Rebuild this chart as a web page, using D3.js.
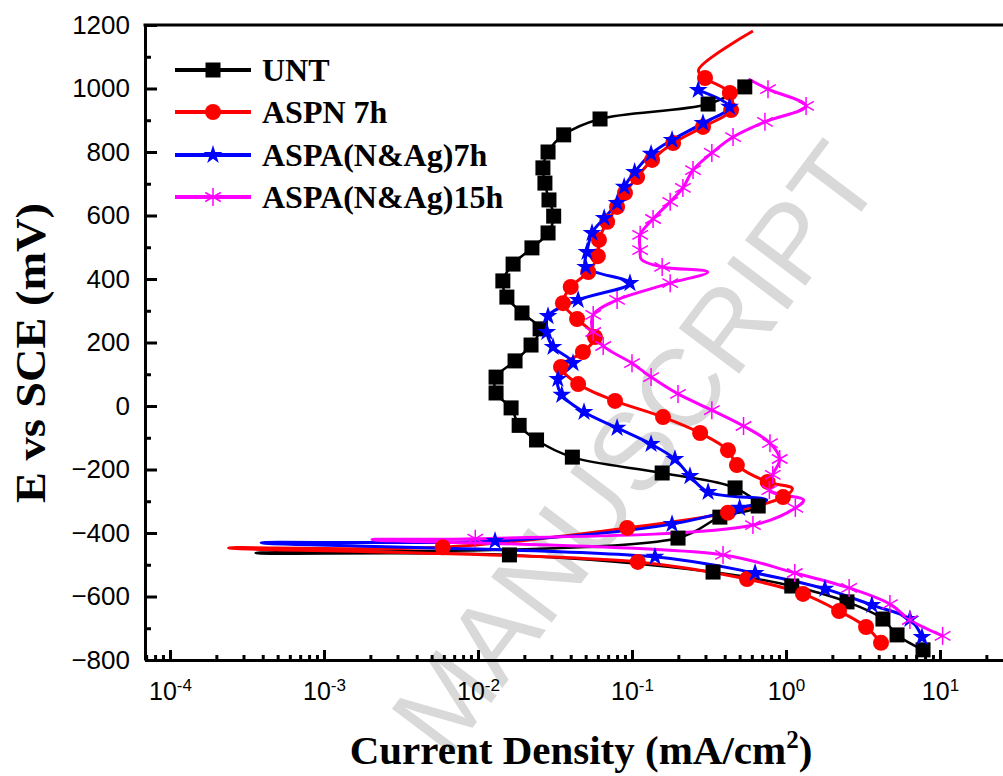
<!DOCTYPE html>
<html>
<head>
<meta charset="utf-8">
<script src="https://cdn.jsdelivr.net/npm/d3@7"></script>
<style>
	body { margin: 0; background: #fff; }
	svg { display: block; }
</style>
</head>
<body>
<svg id="wrapper" width="1003" height="776"></svg>
<script>
// series names, in legend order
let seriesNames = ["UNT", "ASPN 7h", "ASPA(N&Ag)7h", "ASPA(N&Ag)15h"];
let seriesColors = ["#000000", "#ff0000", "#0000ff", "#ff00ff"];

// [current density (mA/cm2), E (mV), has marker]
let untPoints = [
	[7.76, -768, 1], [5.26, -721, 1], [4.26, -671, 1], [2.49, -617, 1], [1.09, -567, 1],
	[0.336, -523, 1], [0.016, -469, 1], [0.00036, -463, 0], [0.199, -416, 1], [0.372, -350, 1],
	[0.66, -315, 1], [0.467, -258, 1], [0.157, -211, 1], [0.041, -161, 1], [0.024, -107, 1],
	[0.0185, -61, 1], [0.0164, -6, 1], [0.0131, 41, 1], [0.0131, 91, 1], [0.0174, 142, 1],
	[0.0221, 192, 1], [0.0253, 243, 1], [0.0193, 293, 1], [0.0154, 343, 1], [0.0145, 394, 1],
	[0.0169, 447, 1], [0.0224, 498, 1], [0.0285, 545, 1], [0.031, 598, 1], [0.0289, 649, 1],
	[0.0272, 702, 1], [0.0264, 750, 1], [0.0285, 800, 1], [0.036, 854, 1], [0.062, 904, 1],
	[0.312, 951, 1], [0.54, 1005, 1], [0.6, 1022, 0]
];
let aspnPoints = [
	[4.14, -746, 1], [3.31, -696, 1], [2.21, -646, 1], [1.29, -592, 1], [0.558, -545, 1],
	[0.109, -491, 1], [0.00024, -447, 0], [0.0059, -445, 1], [0.093, -384, 1], [0.42, -336, 1],
	[0.957, -287, 1], [1.1, -260, 0], [0.76, -239, 1], [0.48, -186, 1], [0.42, -139, 1],
	[0.277, -85, 1], [0.159, -35, 1], [0.0776, 16, 1], [0.0447, 69, 1], [0.0346, 123, 1],
	[0.048, 170, 1], [0.0575, 217, 1], [0.044, 274, 1], [0.0356, 324, 1], [0.04, 375, 1],
	[0.052, 422, 1], [0.06, 472, 1], [0.061, 523, 1], [0.069, 580, 1], [0.08, 627, 1],
	[0.09, 671, 1], [0.108, 721, 1], [0.135, 775, 1], [0.185, 828, 1], [0.289, 879, 1],
	[0.44, 932, 1], [0.432, 986, 1], [0.298, 1033, 1], [0.27, 1058, 0], [0.61, 1181, 0]
];
let aspa7Points = [
	[7.64, -728, 1], [6.38, -671, 1], [3.61, -627, 1], [1.79, -576, 1], [0.63, -526, 1],
	[0.141, -475, 1], [0.00039, -431, 0], [0.0129, -425, 1], [0.182, -372, 1], [0.5, -321, 1],
	[0.75, -296, 0], [0.312, -271, 1], [0.238, -221, 1], [0.19, -167, 1], [0.133, -120, 1],
	[0.08, -69, 1], [0.0488, -19, 1], [0.035, 35, 1], [0.033, 85, 1], [0.0414, 135, 1],
	[0.0307, 186, 1], [0.028, 233, 1], [0.0285, 283, 1], [0.0447, 334, 1], [0.097, 387, 1],
	[0.05, 438, 1], [0.051, 485, 1], [0.055, 545, 1], [0.066, 592, 1], [0.08, 639, 1],
	[0.089, 690, 1], [0.104, 737, 1], [0.133, 794, 1], [0.182, 838, 1], [0.289, 891, 1],
	[0.43, 942, 1], [0.269, 995, 1]
];
let aspa15Points = [
	[10.4, -724, 1], [6.38, -674, 1], [4.73, -624, 1], [2.57, -573, 1], [1.14, -526, 1],
	[0.39, -469, 1], [0.00205, -421, 0], [0.0096, -418, 1], [0.61, -375, 1], [1.15, -321, 1],
	[1.3, -296, 0], [0.78, -265, 1], [0.82, -217, 1], [0.91, -167, 1], [0.787, -117, 1],
	[0.53, -63, 1], [0.33, -13, 1], [0.199, 38, 1], [0.133, 91, 1], [0.1, 135, 1],
	[0.065, 189, 1], [0.056, 233, 1], [0.056, 287, 1], [0.08, 334, 1], [0.177, 387, 1],
	[0.31, 422, 0], [0.157, 438, 1], [0.115, 462, 0], [0.113, 491, 1], [0.113, 539, 1],
	[0.137, 589, 1], [0.177, 643, 1], [0.214, 687, 1], [0.249, 743, 1], [0.33, 797, 1],
	[0.453, 847, 1], [0.73, 895, 1], [1.35, 945, 1], [0.764, 998, 1], [0.57, 1030, 0]
];

let xTickExponents = [-4, -3, -2, -1, 0, 1];
let yTickValues = [-800, -600, -400, -200, 0, 200, 400, 600, 800, 1000, 1200];

let svg = d3.select("#wrapper");
let seriesPoints = [untPoints, aspnPoints, aspa7Points, aspa15Points];
let markerTypes = ["square", "circle", "star", "asterisk"];

let x = d3.scaleLog()
	.domain([Math.pow(10, -4 - 25 / 154), Math.pow(10, 1 + 70 / 154)])
	.range([145, 1010]);
let y = d3.scaleLinear().domain([-800, 1200]).range([660, 25]);

// watermark behind everything
svg.append("text")
	.attr("transform", "translate(635,448) rotate(-53)")
	.attr("text-anchor", "middle")
	.attr("dominant-baseline", "central")
	.style("font-family", "'Liberation Sans', Arial, sans-serif")
	.style("font-size", "110px")
	.attr("fill", "#d9d9d9")
	.text("MANUSCRIPT");

let drawMarker = function (g, type, color) {
	if (type === "square") {
		g.append("rect").attr("x", -7.5).attr("y", -7.5).attr("width", 15).attr("height", 15).attr("fill", color);
	} else if (type === "circle") {
		g.append("circle").attr("r", 8).attr("fill", color);
	} else if (type === "star") {
		g.append("path").attr("d", d3.symbol(d3.symbolStar, 110)()).attr("fill", color);
	} else {
		let r = 9;
		[90, 30, -30].forEach((a) => {
			let rad = (a * Math.PI) / 180;
			g.append("line")
				.attr("x1", -r * Math.cos(rad)).attr("y1", -r * Math.sin(rad))
				.attr("x2", r * Math.cos(rad)).attr("y2", r * Math.sin(rad))
				.attr("stroke", color).attr("stroke-width", 1.5);
		});
	}
};

let line = d3.line()
	.x((d) => x(d[0]))
	.y((d) => y(d[1]))
	.curve(d3.curveCatmullRom.alpha(0.5));

// series lines then markers
seriesPoints.forEach((pts, i) => {
	svg.append("path")
		.attr("d", line(pts))
		.attr("fill", "none")
		.attr("stroke", seriesColors[i])
		.attr("stroke-width", i === 0 ? 2.5 : 3);
});
seriesPoints.forEach((pts, i) => {
	pts.filter((d) => d[2]).forEach((d) => {
		let g = svg.append("g").attr("transform", "translate(" + x(d[0]) + "," + y(d[1]) + ")");
		drawMarker(g, markerTypes[i], seriesColors[i]);
	});
});

// x axis with minor ticks
let minorX = [];
for (let e = -5; e <= 1; e++) {
	for (let m = 2; m <= 9; m++) {
		let v = m * Math.pow(10, e);
		if (v >= x.domain()[0] && v <= x.domain()[1]) minorX.push(v);
	}
}
svg.append("g")
	.attr("transform", "translate(0,660)")
	.call(d3.axisBottom(x).tickValues(minorX).tickSize(-5).tickSizeOuter(0).tickFormat(""))
	.call((g) => g.select(".domain").remove())
	.selectAll("line").attr("stroke-width", 3);

let xAxis = svg.append("g")
	.attr("transform", "translate(0,660)")
	.call(d3.axisBottom(x)
		.tickValues(xTickExponents.map((e) => Math.pow(10, e)))
		.tickSize(-10).tickSizeOuter(0).tickPadding(22)
		.tickFormat(""));
xAxis.select(".domain").attr("stroke-width", 3);
xAxis.selectAll("line").attr("stroke-width", 3);
xAxis.selectAll(".tick text")
	.data(xTickExponents)
	.style("font-family", "'Liberation Sans', Arial, sans-serif")
	.style("font-size", "25px")
	.attr("fill", "#000")
	.each(function (e) {
		let t = d3.select(this);
		t.append("tspan").text("10");
		t.append("tspan").attr("dy", -9).style("font-size", "17px").text(String(e));
	});

// y axis with minor ticks
svg.append("g")
	.attr("transform", "translate(145,0)")
	.call(d3.axisLeft(y).tickValues(d3.range(-700, 1200, 200)).tickSize(-6).tickSizeOuter(0).tickFormat(""))
	.call((g) => g.select(".domain").remove())
	.selectAll("line").attr("stroke-width", 3);

let yAxis = svg.append("g")
	.attr("transform", "translate(145,0)")
	.call(d3.axisLeft(y).tickValues(yTickValues).tickSize(-12).tickSizeOuter(0).tickPadding(15)
		.tickFormat(d3.format("d")));
yAxis.select(".domain").attr("stroke-width", 3);
yAxis.selectAll("line").attr("stroke-width", 3);
yAxis.selectAll("text")
	.style("font-family", "'Liberation Sans', Arial, sans-serif")
	.style("font-size", "26px")
	.attr("fill", "#000");

// top frame line
svg.append("line")
	.attr("x1", 143.5).attr("x2", 1003)
	.attr("y1", 25).attr("y2", 25)
	.attr("stroke", "#000").attr("stroke-width", 3);

// axis titles
svg.append("text")
	.attr("transform", "translate(45,353) rotate(-90)")
	.attr("text-anchor", "middle")
	.attr("textLength", 300)
	.attr("lengthAdjust", "spacingAndGlyphs")
	.style("font-family", "'Liberation Serif', 'Times New Roman', serif")
	.style("font-weight", "bold")
	.style("font-size", "42px")
	.text("E vs SCE (mV)");

let xTitle = svg.append("text")
	.attr("x", 581).attr("y", 764)
	.attr("text-anchor", "middle")
	.style("font-family", "'Liberation Serif', 'Times New Roman', serif")
	.style("font-weight", "bold")
	.style("font-size", "41px");
xTitle.append("tspan").text("Current Density (mA/cm");
xTitle.append("tspan").attr("dy", -16).style("font-size", "25px").text("2");
xTitle.append("tspan").attr("dy", 16).text(")");

// legend
let legendRows = [70, 112, 155, 197];
seriesNames.forEach((name, i) => {
	let ly = legendRows[i];
	svg.append("line")
		.attr("x1", 175).attr("x2", 251)
		.attr("y1", ly).attr("y2", ly)
		.attr("stroke", seriesColors[i]).attr("stroke-width", 4);
	let g = svg.append("g").attr("transform", "translate(213," + ly + ")");
	drawMarker(g, markerTypes[i], seriesColors[i]);
	svg.append("text")
		.attr("x", 262).attr("y", ly + 11)
		.style("font-family", "'Liberation Serif', 'Times New Roman', serif")
		.style("font-weight", "bold")
		.style("font-size", "32px")
		.text(name);
});
</script>
</body>
</html>
